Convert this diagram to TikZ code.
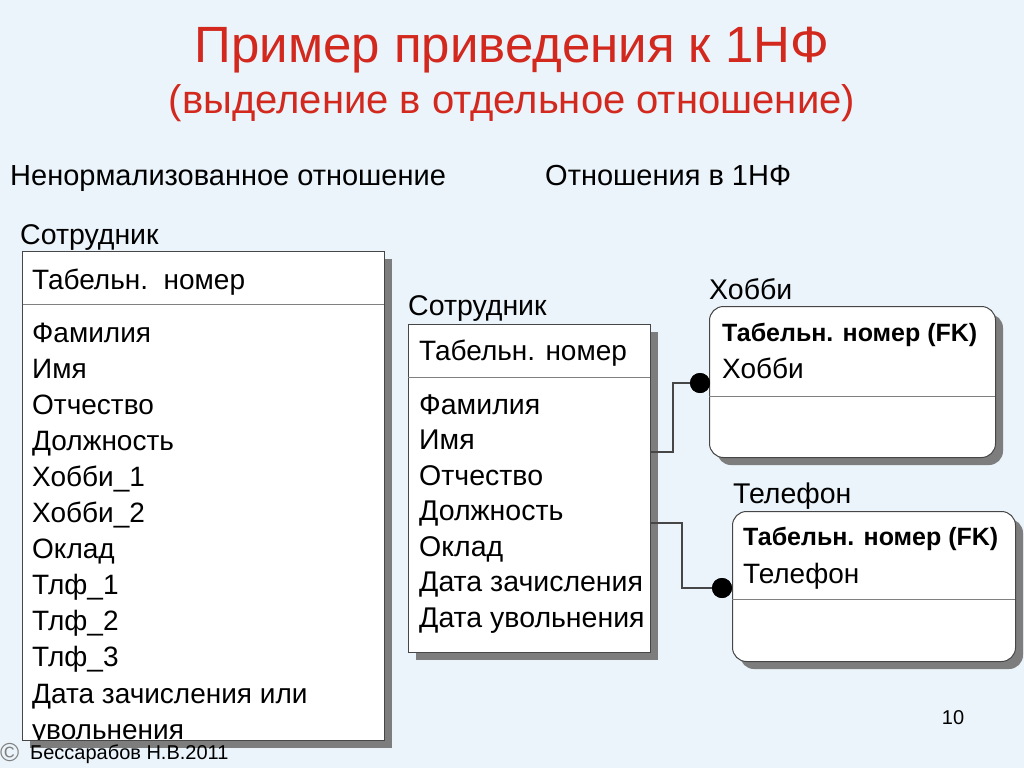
\documentclass[tikz,border=0pt]{standalone}
\usepackage{fontspec}
\setmainfont{Liberation Sans}
\usetikzlibrary{calc}
\definecolor{bg}{RGB}{234,244,250}
\definecolor{titlered}{RGB}{210,40,30}
\definecolor{shadowgray}{RGB}{125,125,125}
\definecolor{linegray}{RGB}{70,70,70}
\newcommand{\fsz}[1]{\fontsize{#1}{#1}\selectfont}
\begin{document}
\begin{tikzpicture}[x=1pt,y=-1pt,
  txt/.style={anchor=base west,inner sep=0pt,font=\fsz{28}},
  btxt/.style={anchor=base west,inner sep=0pt,font=\fsz{25}\bfseries},
  lbl/.style={anchor=base west,inner sep=0pt,font=\fsz{28.5}},
  tbl/.style={draw=linegray,line width=1pt,fill=white,inner sep=0pt,anchor=north west},
  shd/.style={fill=shadowgray},
  divider/.style={draw=gray,line width=1pt},
  conn/.style={draw=linegray,line width=1.2pt},
  dot/.style={circle,fill=black,inner sep=0pt,minimum size=20pt}
]
\fill[bg] (0,0) rectangle (1024,768);
\useasboundingbox (0,0) rectangle (1024,768);

% titles
\node[inner sep=0pt,anchor=base,font=\fsz{51},text=titlered] (t1) at (512,63) {Пример приведения к 1НФ};
\node[inner sep=0pt,anchor=base,font=\fsz{40},text=titlered] (t2) at (512,113) {(выделение в отдельное отношение)};
\node[lbl,font=\fsz{29}] (h1) at (10,185) {Ненормализованное отношение};
\node[lbl,font=\fsz{29}] (h2) at (545,185) {Отношения в 1НФ};

% big table
\fill[shd] (30,259) rectangle (392,748);
\node[tbl,minimum width=362pt,minimum height=489pt] (emp) at (22,251) {};
\draw[divider] (22,304) -- (384,304);
\node[lbl] (empl) at (20,244) {Сотрудник};
\node[txt] (e0) at (32,289) {Табельн.\ \ номер};
\foreach \t [count=\i from 0] in {Фамилия,Имя,Отчество,Должность,Хобби\_1,Хобби\_2,Оклад,Тлф\_1,Тлф\_2,Тлф\_3,Дата зачисления или}
  \node[txt] (e\i a) at (32,342+36.1*\i) {\t};
\begin{scope}
\clip (22,251) rectangle (384,740);
\node[txt] (elast) at (32,739) {увольнения};
\end{scope}
\draw[linegray,line width=1pt] (22,251) rectangle (384,740);

% middle table
\fill[shd] (416,332) rectangle (658,660);
\node[tbl,minimum width=242pt,minimum height=328pt] (emp2) at (408,324) {};
\draw[divider] (408,377) -- (650,377);
\node[lbl] (emp2l) at (408,315) {Сотрудник};
\node[txt] (m0) at (419,360) {Табельн. номер};
\foreach \t [count=\i from 0] in {Фамилия,Имя,Отчество,Должность,Оклад,Дата зачисления,Дата увольнения}
  \node[txt,font=\fsz{28.5}] (m\i a) at (419,414+35.5*\i) {\t};

% hobby table
\fill[shd,rounded corners=14pt] (717,314) rectangle (1003,465);
\node[tbl,rounded corners=14pt,minimum width=286pt,minimum height=151pt] (hob) at (709,306) {};
\draw[divider] (709,396) -- (995,396);
\node[lbl] (hobl) at (709,299) {Хобби};
\node[btxt] (hk) at (722,341) {Табельн. номер (FK)};
\node[txt] (ha) at (722,378) {Хобби};

% phone table
\fill[shd,rounded corners=14pt] (740,519) rectangle (1023,669);
\node[tbl,rounded corners=14pt,minimum width=283pt,minimum height=150pt] (tel) at (732,511) {};
\draw[divider] (732,599) -- (1015,599);
\node[lbl] (tell) at (733,503) {Телефон};
\node[btxt] (tk) at (743,545) {Табельн. номер (FK)};
\node[txt] (ta) at (743,583) {Телефон};

% connectors
\node[dot] (d1) at (700,383) {};
\node[dot] (d2) at (722,588) {};
\coordinate (c1) at (650,452);
\coordinate (c2) at (650,523);
\draw[conn] (c1) -- (673,452) |- (d1.center);
\draw[conn] (c2) -- (682,523) |- (d2.center);
\node[dot] at (d1) {};
\node[dot] at (d2) {};

% footer
\node[inner sep=0pt,anchor=base,font=\fsz{20}] (pg) at (953,724) {10};
\node[inner sep=0pt,anchor=base west,font=\fsz{26},text=gray] (cp) at (0,761) {©};
\node[inner sep=0pt,anchor=base west,font=\fsz{20}] (au) at (30,759) {Бессарабов Н.В.2011};
\end{tikzpicture}
\end{document}
